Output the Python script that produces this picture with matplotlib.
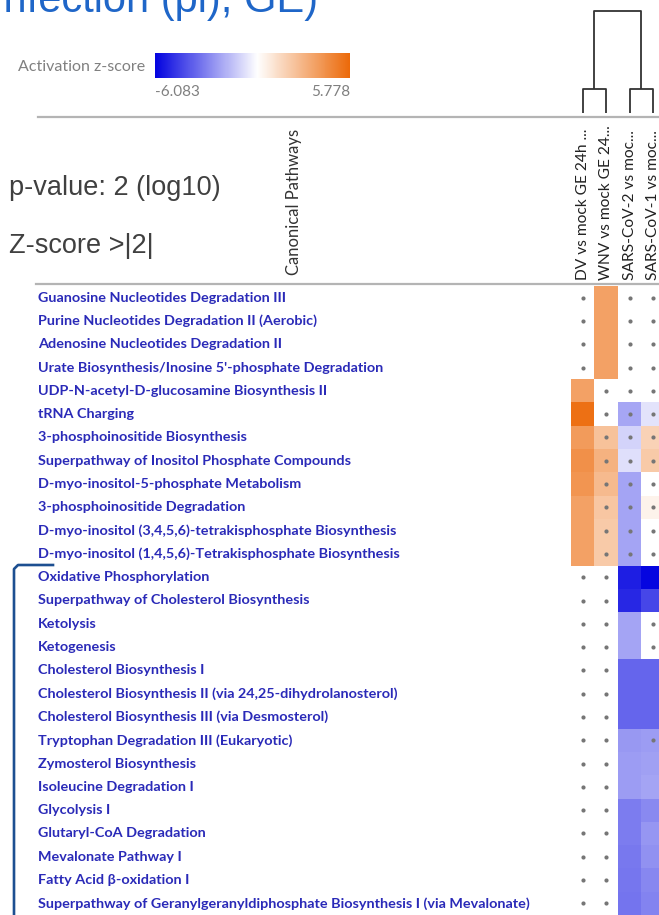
import numpy as np
import matplotlib
matplotlib.use("Agg")
import matplotlib.pyplot as plt
from matplotlib import transforms
from matplotlib.colors import LinearSegmentedColormap, TwoSlopeNorm

W, H = 659, 915
nan = np.nan

pathways = [
    "Guanosine Nucleotides Degradation III",
    "Purine Nucleotides Degradation II (Aerobic)",
    "Adenosine Nucleotides Degradation II",
    "Urate Biosynthesis/Inosine 5'-phosphate Degradation",
    "UDP-N-acetyl-D-glucosamine Biosynthesis II",
    "tRNA Charging",
    "3-phosphoinositide Biosynthesis",
    "Superpathway of Inositol Phosphate Compounds",
    "D-myo-inositol-5-phosphate Metabolism",
    "3-phosphoinositide Degradation",
    "D-myo-inositol (3,4,5,6)-tetrakisphosphate Biosynthesis",
    "D-myo-inositol (1,4,5,6)-Tetrakisphosphate Biosynthesis",
    "Oxidative Phosphorylation",
    "Superpathway of Cholesterol Biosynthesis",
    "Ketolysis",
    "Ketogenesis",
    "Cholesterol Biosynthesis I",
    "Cholesterol Biosynthesis II (via 24,25-dihydrolanosterol)",
    "Cholesterol Biosynthesis III (via Desmosterol)",
    "Tryptophan Degradation III (Eukaryotic)",
    "Zymosterol Biosynthesis",
    "Isoleucine Degradation I",
    "Glycolysis I",
    "Glutaryl-CoA Degradation",
    "Mevalonate Pathway I",
    "Fatty Acid \u03b2-oxidation I",
    "Superpathway of Geranylgeranyldiphosphate Biosynthesis I (via Mevalonate)",
]

comparisons = ["DV vs mock GE 24h ...", "WNV vs mock GE 24...",
               "SARS-CoV-2 vs moc...", "SARS-CoV-1 vs moc..."]

# activation z-scores per comparison (nan = no score)
z_dv = [nan, nan, nan, nan, 3.68, 5.55, 3.92, 4.30, 4.15, 3.68, 3.68, 3.68,
        nan, nan, nan, nan, nan, nan, nan, nan, nan, nan, nan, nan, nan, nan, nan]
z_wnv = [3.68, 3.68, 3.68, 3.68, nan, nan, 2.44, 3.06, 2.75, 2.29, 2.13, 2.13,
         nan, nan, nan, nan, nan, nan, nan, nan, nan, nan, nan, nan, nan, nan, nan]
z_sars2 = [nan, nan, nan, nan, nan, -2.07, -0.95, -0.63, -2.10, -2.10, -2.10, -2.10,
           -5.43, -5.20, -2.12, -2.12, -3.67, -3.67, -3.67, -2.41, -2.31, -2.31,
           -3.09, -3.09, -3.19, -3.24, -3.28]
z_sars1 = [nan, nan, nan, nan, nan, -0.56, 1.82, 2.13, nan, 0.62, nan, nan,
           -6.08, -4.45, nan, nan, -3.67, -3.67, -3.67, -2.31, -2.21, -2.12,
           -2.80, -2.46, -2.60, -2.85, -2.90]

# cells marked with a dot
dot_dv = [1, 1, 1, 1, 0, 0, 0, 0, 0, 0, 0, 0] + [1] * 15
dot_wnv = [0, 0, 0, 0, 1, 1, 1, 1, 1, 1, 1, 1] + [1] * 15
dot_sars2 = [1, 1, 1, 1, 1, 1, 1, 1, 1, 1, 1, 1] + [0] * 15
dot_sars1 = [1, 1, 1, 1, 1, 1, 1, 1, 1, 1, 1, 1,
             0, 0, 1, 1, 0, 0, 0, 1, 0, 0, 0, 0, 0, 0, 0]

z_min, z_max = -6.083, 5.778

cmap = LinearSegmentedColormap.from_list(
    "ipa", [(0.0, "#0505e0"), (-z_min / (z_max - z_min), "#ffffff"), (1.0, "#ec6a0a")])
norm = TwoSlopeNorm(vmin=z_min, vcenter=0.0, vmax=z_max)

fig = plt.figure(figsize=(W / 100, H / 100), dpi=100)
fig.patch.set_facecolor("white")

# pixel-space layer for text and rules
ax0 = fig.add_axes([0, 0, 1, 1])
ax0.set_xlim(0, W)
ax0.set_ylim(H, 0)
ax0.axis("off")

# heatmap block
col_w, top = 23.4, 286
n_rows, n_cols = len(pathways), len(comparisons)
hm_left = 571
ax_hm = fig.add_axes([hm_left / W, 0, n_cols * col_w / W, (H - top) / H])
Z = np.array([z_dv, z_wnv, z_sars2, z_sars1]).T
ax_hm.pcolormesh(np.arange(n_cols + 1), np.arange(n_rows + 1),
                 np.ma.masked_invalid(Z), cmap=cmap, norm=norm)
ax_hm.set_xlim(0, n_cols)
ax_hm.set_ylim(n_rows, 0)
ax_hm.set_facecolor("white")
ax_hm.axis("off")
dots = np.array([dot_dv, dot_wnv, dot_sars2, dot_sars1]).T
rr, cc = np.nonzero(dots)
ax_hm.scatter(cc + 0.5, rr + 0.5, s=9, color="#767676", linewidths=0, zorder=3)

# pathway names, aligned with heatmap rows
lab_tr = transforms.blended_transform_factory(ax0.transData, ax_hm.transData)
for i, name in enumerate(pathways):
    ax0.text(38, i + 0.5, name, transform=lab_tr, ha="left", va="center",
             fontsize=10.4, fontweight="bold", family=["Lato", "DejaVu Sans"],
             color="#2a2ab8")

# comparison labels
col_tr = transforms.blended_transform_factory(ax_hm.transData, ax0.transData)
for j, name in enumerate(comparisons):
    ax0.text(j + 0.5, 280, name, transform=col_tr, rotation=90, ha="center",
             va="bottom", fontsize=11.2, family="Lato", color="#222222")

# dendrogram over the columns
ax_dn = fig.add_axes([hm_left / W, 1 - 113 / H, n_cols * col_w / W, 113 / H])
ax_dn.set_xlim(0, n_cols)
ax_dn.set_ylim(0, 1)
ax_dn.axis("off")
h_pair, h_root = 0.21, 0.9
kw = dict(color="#333333", lw=1.3, solid_capstyle="butt")
for a, b in [(0.5, 1.5), (2.5, 3.5)]:
    ax_dn.plot([a, a, b, b], [0, h_pair, h_pair, 0], **kw)
ax_dn.plot([1, 1, 3, 3], [h_pair, h_root, h_root, h_pair], **kw)

# header rules
ax0.plot([38, W], [117, 117], color="#b4b4b4", lw=1.6)
ax0.plot([36, W], [284, 284], color="#b4b4b4", lw=1.6)

ax0.text(294, 202, "Canonical Pathways", rotation=90, ha="center", va="center",
         fontsize=12, family="Lato", color="#333333")

# colour scale
ax_cb = fig.add_axes([155 / W, 1 - 78 / H, 195 / W, 25 / H])
ax_cb.imshow(np.linspace(z_min, z_max, 256)[None, :], aspect="auto", cmap=cmap, norm=norm)
ax_cb.axis("off")
ax0.text(145, 67, "Activation z-score", ha="right", va="center", fontsize=11.5,
         family="Lato", color="#808080")
ax0.text(155, 92, f"{z_min:.3f}", ha="left", va="center", fontsize=11,
         family="Lato", color="#808080")
ax0.text(350, 92, f"{z_max:.3f}", ha="right", va="center", fontsize=11,
         family="Lato", color="#808080")

# thresholds
ax0.text(9, 188, "p-value: 2 (log10)", ha="left", va="center", fontsize=19.5,
         family="Liberation Sans", color="#404040")
ax0.text(9, 246, "Z-score >|2|", ha="left", va="center", fontsize=19.5,
         family="Liberation Sans", color="#404040")

# slide title
ax0.text(318, 12, "Infection (pi), GE)", ha="right", va="baseline", fontsize=30,
         family="Liberation Sans", color="#1f66c8", clip_on=False)

# bracket on the down-regulated block
ax0.plot([53, 18, 14, 14], [565, 565, 569, H + 5], color="#1d4f91", lw=1.9,
         solid_joinstyle="round")

fig.savefig("out.png", dpi=100, facecolor="white")
